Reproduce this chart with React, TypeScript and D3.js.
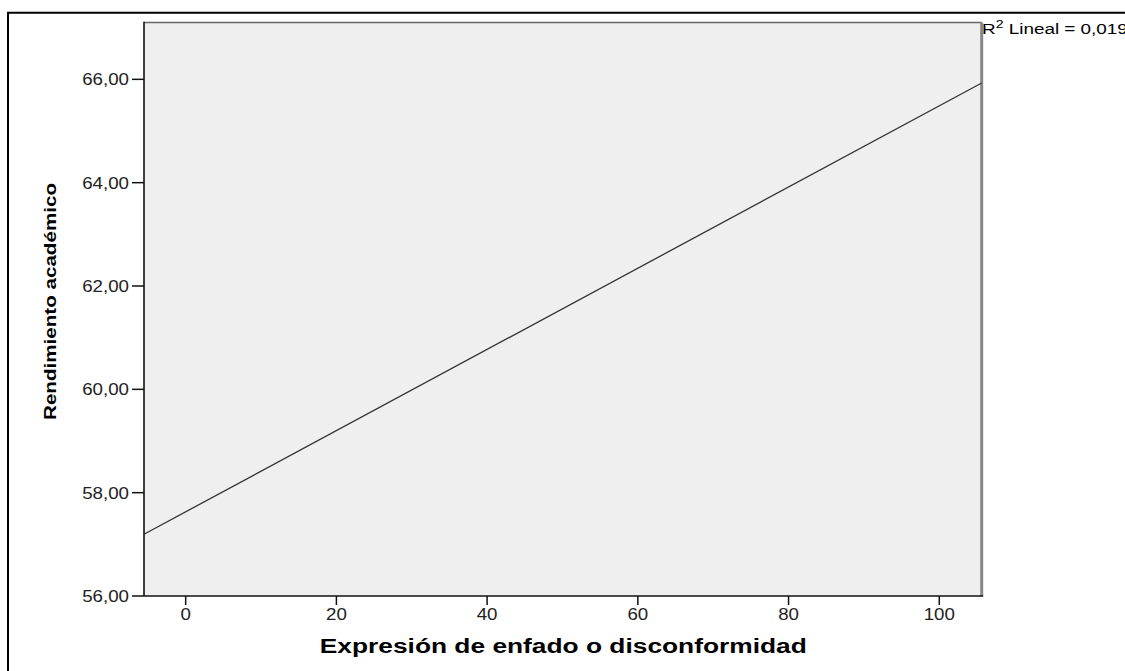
import React from "react";
import * as d3 from "d3";

const xTicks = [0, 20, 40, 60, 80, 100];
const yTicks = [56, 58, 60, 62, 64, 66];
const xDomain = [-5.53, 105.63];
const yDomain = [56, 67.1];
const fitX = [-5.53, 105.63];
const fitY = [57.195, 65.93];
const xTitle = "Expresión de enfado o disconformidad";
const yTitle = "Rendimiento académico";
const r2Value = "0,019";

const fmtY = (v: number) => v.toFixed(2).replace(".", ",");

export default function App() {
  const W = 1125, H = 671;
  const L = 144, R = 981.7, T = 22.5, B = 596;
  const x = d3.scaleLinear().domain(xDomain).range([L, R]);
  const y = d3.scaleLinear().domain(yDomain).range([B, T]);
  const line = d3.line<[number, number]>().x(d => x(d[0])).y(d => y(d[1]));
  const pts: [number, number][] = fitX.map((v, i) => [v, fitY[i]]);
  const font = "'Liberation Sans', Arial, sans-serif";
  const sx = 1.17;

  return (
    <svg width={W} height={H} style={{ position: "absolute", left: 0, top: 0, background: "#fff" }}>
      <path d={`M8,${H} V12.7 H${W}`} fill="none" stroke="#000" strokeWidth={2} />
      <rect x={L} y={T} width={R - L} height={B - T} fill="#efefef" />
      <line x1={L} x2={R} y1={T} y2={T} stroke="#666" strokeWidth={1.5} />
      <line x1={R} x2={R} y1={T} y2={B} stroke="#888" strokeWidth={3} />
      <path d={line(pts) || ""} fill="none" stroke="#333" strokeWidth={1.3} />
      <line x1={L} x2={L} y1={T - 0.7} y2={B} stroke="#111" strokeWidth={1.6} />
      <line x1={L} x2={R + 1.5} y1={B} y2={B} stroke="#111" strokeWidth={1.6} />
      {yTicks.map(t => (
        <g key={"y" + t}>
          <line x1={132} x2={L} y1={y(t)} y2={y(t)} stroke="#111" strokeWidth={1.5} />
          <g transform={`translate(129,${y(t) + 6}) scale(${sx},1)`}>
            <text textAnchor="end" fontFamily={font} fontSize={16} fill="#222">{fmtY(t)}</text>
          </g>
        </g>
      ))}
      {xTicks.map(t => (
        <g key={"x" + t}>
          <line x1={x(t)} x2={x(t)} y1={B} y2={605} stroke="#111" strokeWidth={1.5} />
          <g transform={`translate(${x(t)},620) scale(${sx},1)`}>
            <text textAnchor="middle" fontFamily={font} fontSize={16} fill="#222">{t}</text>
          </g>
        </g>
      ))}
      <text x={563.3} y={653} textAnchor="middle" fontFamily={font} fontWeight="bold" fontSize={19.5}
        textLength={487} lengthAdjust="spacingAndGlyphs" fill="#000">{xTitle}</text>
      <g transform="translate(56,301.5) rotate(-90)">
        <text textAnchor="middle" fontFamily={font} fontWeight="bold" fontSize={17}
          textLength={237} lengthAdjust="spacingAndGlyphs" fill="#000">{yTitle}</text>
      </g>
      <g transform={`translate(982,33.5) scale(1.22,1)`}>
        <text fontFamily={font} fontSize={15.5} fill="#000">
          R<tspan fontSize={11.5} dy={-6}>2</tspan><tspan dy={6}>{" Lineal = " + r2Value}</tspan>
        </text>
      </g>
    </svg>
  );
}
